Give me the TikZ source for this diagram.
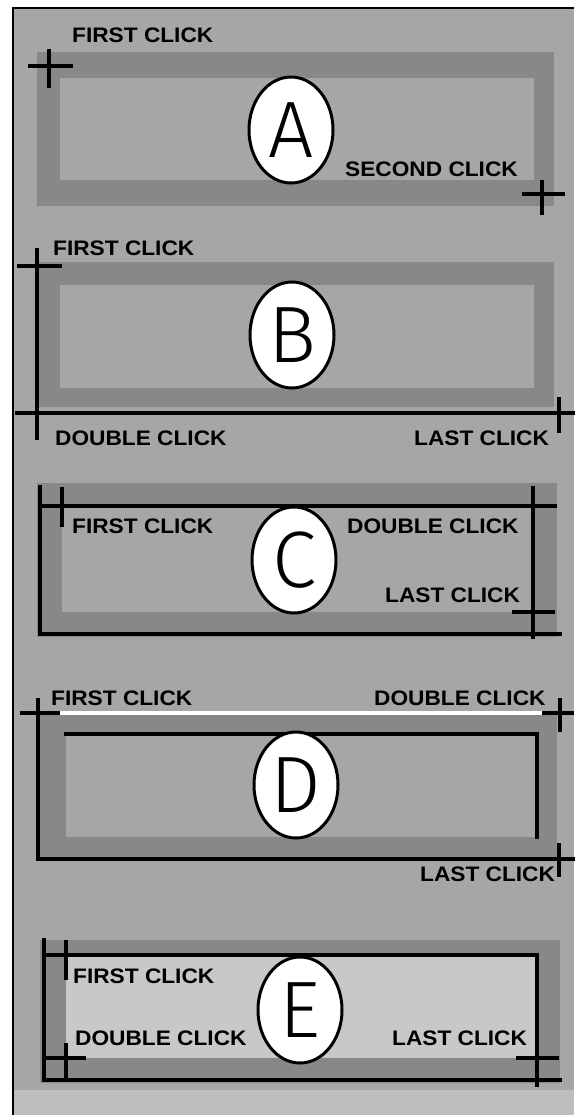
\documentclass[tikz,border=0pt]{standalone}
\usepackage{fontspec}
\setmainfont{Liberation Sans}
\newfontfamily\clickfont{Liberation Sans}[FakeStretch=1.08]
\newfontfamily\ovalfont{Fira Sans Light}
\usetikzlibrary{shapes.geometric}
\definecolor{halftone}{HTML}{A6A6A6}
\definecolor{bandgray}{HTML}{888888}
\definecolor{paleband}{HTML}{C8C8C8}
\definecolor{paletone}{HTML}{BEBEBE}
\tikzset{
  band/.style  = {fill=bandgray, draw=none},
  inner/.style = {fill=halftone, draw=none},
  rule/.style  = {line width=3.5pt, line cap=rect},
  hair/.style  = {line width=4.5pt},
  lbl/.style   = {anchor=base west, inner sep=0pt,
                  font=\clickfont\bfseries\fontsize{21}{21}\selectfont},
  oval/.style  = {ellipse, draw, line width=3pt, fill=white, inner sep=0pt,
                  minimum width=84pt, minimum height=106pt,
                  font=\ovalfont\fontsize{80}{80}\selectfont},
}
\begin{document}
\begin{tikzpicture}[x=1pt, y=-1pt]
  \useasboundingbox (0,0) rectangle (574,1115);
  \fill[white] (0,0) rectangle (574,1115);
  \fill[halftone] (13,8.5) rectangle (574,1115);
  \fill[paletone] (13,1090) rectangle (574,1115);
  \draw[line width=2pt] (574,8.5) -- (13,8.5) -- (13,1115);

  % A: two clicks
  \fill[band] (37,52) rectangle (554,206);
  \fill[inner] (60,78) rectangle (534,180);
  \draw[hair] (28,66) -- (73,66) (49,49) -- (49,88);
  \draw[hair] (522,194) -- (565,194) (542,180) -- (542,215);
  \node[lbl] (afirst) at (72,43) {FIRST CLICK};
  \node[lbl] (asecond) at (345,177) {SECOND CLICK};
  \node[oval] (ovA) at (291,130) {A};

  % B
  \fill[band] (37,262) rectangle (554,407);
  \fill[inner] (60,285) rectangle (534,388);
  \draw[rule] (37,250) -- (37,438);
  \draw[rule] (17,413) -- (574,413);
  \draw[hair] (17,266) -- (62,266) (559,397) -- (559,433);
  \node[lbl] (bfirst) at (53,255) {FIRST CLICK};
  \node[lbl] (bdouble) at (55,445) {DOUBLE CLICK};
  \node[lbl] (blast) at (414,445) {LAST CLICK};
  \node[oval] (ovB) at (292,335) {B};

  % C
  \fill[band] (37,483) rectangle (557,637);
  \fill[inner] (62,506) rectangle (533,612);
  \draw[rule] (40,506) -- (555,506) (40,487) -- (40,634) -- (560,634)
              (533,488) -- (533,637);
  \draw[hair] (62,487) -- (62,527) (512,612) -- (555,612);
  \node[lbl] (cfirst) at (72,533) {FIRST CLICK};
  \node[lbl] (cdouble) at (347,533) {DOUBLE CLICK};
  \node[lbl] (clast) at (385,602) {LAST CLICK};
  \node[oval] (ovC) at (294,560) {C};

  % D
  \fill[band] (38,715) rectangle (557,859);
  \fill[inner] (66,734) rectangle (537,837);
  \draw[white, line width=4pt] (60,713) -- (542,713);
  \draw[rule] (38,700) -- (38,859) -- (574,859) (66,734) -- (537,734) -- (537,837);
  \draw[hair] (20,713) -- (60,713) (542,713) -- (574,713)
              (560,698) -- (560,732) (559,843) -- (559,877);
  \node[lbl] (dfirst) at (51,705) {FIRST CLICK};
  \node[lbl] (ddouble) at (374,705) {DOUBLE CLICK};
  \node[lbl] (dlast) at (420,881) {LAST CLICK};
  \node[oval] (ovD) at (296,785) {D};

  % E
  \fill[band] (40,940) rectangle (560,1083);
  \fill[paleband] (66,955) rectangle (537,1058);
  \draw[rule] (44,940) -- (44,1080) -- (560,1080) (44,955) -- (537,955)
              (537,955) -- (537,1085);
  \draw[hair] (66,940) -- (66,980) (46,1058) -- (86,1058)
              (66,1043) -- (66,1082) (516,1058) -- (559,1058);
  \node[lbl] (efirst) at (73,983) {FIRST CLICK};
  \node[lbl] (edouble) at (75,1045) {DOUBLE CLICK};
  \node[lbl] (elast) at (392,1045) {LAST CLICK};
  \node[oval] (ovE) at (300,1010) {E};
\end{tikzpicture}
\end{document}
